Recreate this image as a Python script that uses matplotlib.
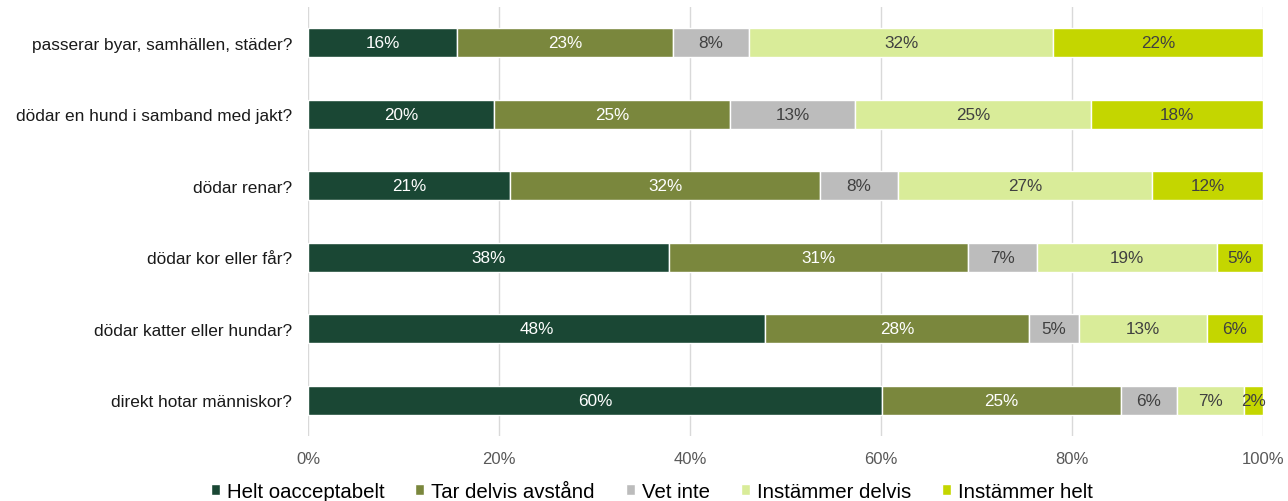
import matplotlib
matplotlib.use("Agg")
import matplotlib.pyplot as plt
import numpy as np

plt.rcParams['font.family'] = ['Liberation Sans', 'DejaVu Sans']

categories = [
    "passerar byar, samhällen, städer?",
    "dödar en hund i samband med jakt?",
    "dödar renar?",
    "dödar kor eller får?",
    "dödar katter eller hundar?",
    "direkt hotar människor?",
]
series_names = ["Helt oacceptabelt", "Tar delvis avstånd", "Vet inte",
                "Instämmer delvis", "Instämmer helt"]
helt_oacceptabelt = [15.6, 19.5, 21.2, 37.8, 47.9, 60.1]
tar_delvis = [22.6, 24.7, 32.4, 31.3, 27.6, 25.0]
vet_inte = [8.0, 13.1, 8.2, 7.2, 5.2, 5.9]
instammer_delvis = [31.8, 24.7, 26.6, 18.9, 13.4, 7.0]
instammer_helt = [22.0, 18.0, 11.6, 4.8, 5.9, 2.0]
labels = [
    [16, 20, 21, 38, 48, 60],
    [23, 25, 32, 31, 28, 25],
    [8, 13, 8, 7, 5, 6],
    [32, 25, 27, 19, 13, 7],
    [22, 18, 12, 5, 6, 2],
]
xticks = [0, 20, 40, 60, 80, 100]

colors = ["#1a4734", "#7a873d", "#bcbcbc", "#d9ec99", "#c4d600"]
text_colors = ["white", "white", "#404040", "#404040", "#404040"]

series = [helt_oacceptabelt, tar_delvis, vet_inte, instammer_delvis, instammer_helt]

fig = plt.figure(figsize=(12.88, 5.02), dpi=100)
ax = fig.add_axes([0.2391, 0.1295, 0.7415, 0.8546])

y = np.arange(len(categories))
left = np.zeros(len(categories))
handles = []
for i, (vals, name) in enumerate(zip(series, series_names)):
    vals = np.array(vals)
    b = ax.barh(y, vals, left=left, height=0.40, color=colors[i],
                edgecolor="white", linewidth=1, label=name, zorder=3)
    handles.append(b)
    for j, v in enumerate(vals):
        ax.text(left[j] + v / 2, y[j], f"{labels[i][j]}%", ha="center", va="center",
                color=text_colors[i], fontsize=12.3, zorder=4)
    left += vals

ax.set_ylim(len(categories) - 0.5, -0.5)
ax.set_xlim(0, 100)
ax.set_yticks(y)
ax.set_yticklabels(categories, fontsize=12.4, color="#1a1a1a")
ax.set_xticks(xticks)
ax.set_xticklabels([f"{t}%" for t in xticks], fontsize=12, color="#595959")
ax.tick_params(axis="both", length=0)
ax.tick_params(axis="y", pad=11.5)
ax.tick_params(axis="x", pad=11)
ax.grid(axis="x", color="#d9d9d9", linewidth=1, zorder=0)
for s in ax.spines.values():
    s.set_visible(False)

fig.legend(handles=handles, labels=series_names, loc="lower center",
           bbox_to_anchor=(0.506, -0.037), ncol=5, frameon=False, fontsize=14.7,
           handlelength=0.45, handleheight=0.45, handletextpad=0.35, columnspacing=1.5)

fig.savefig("out.png", dpi=100)
